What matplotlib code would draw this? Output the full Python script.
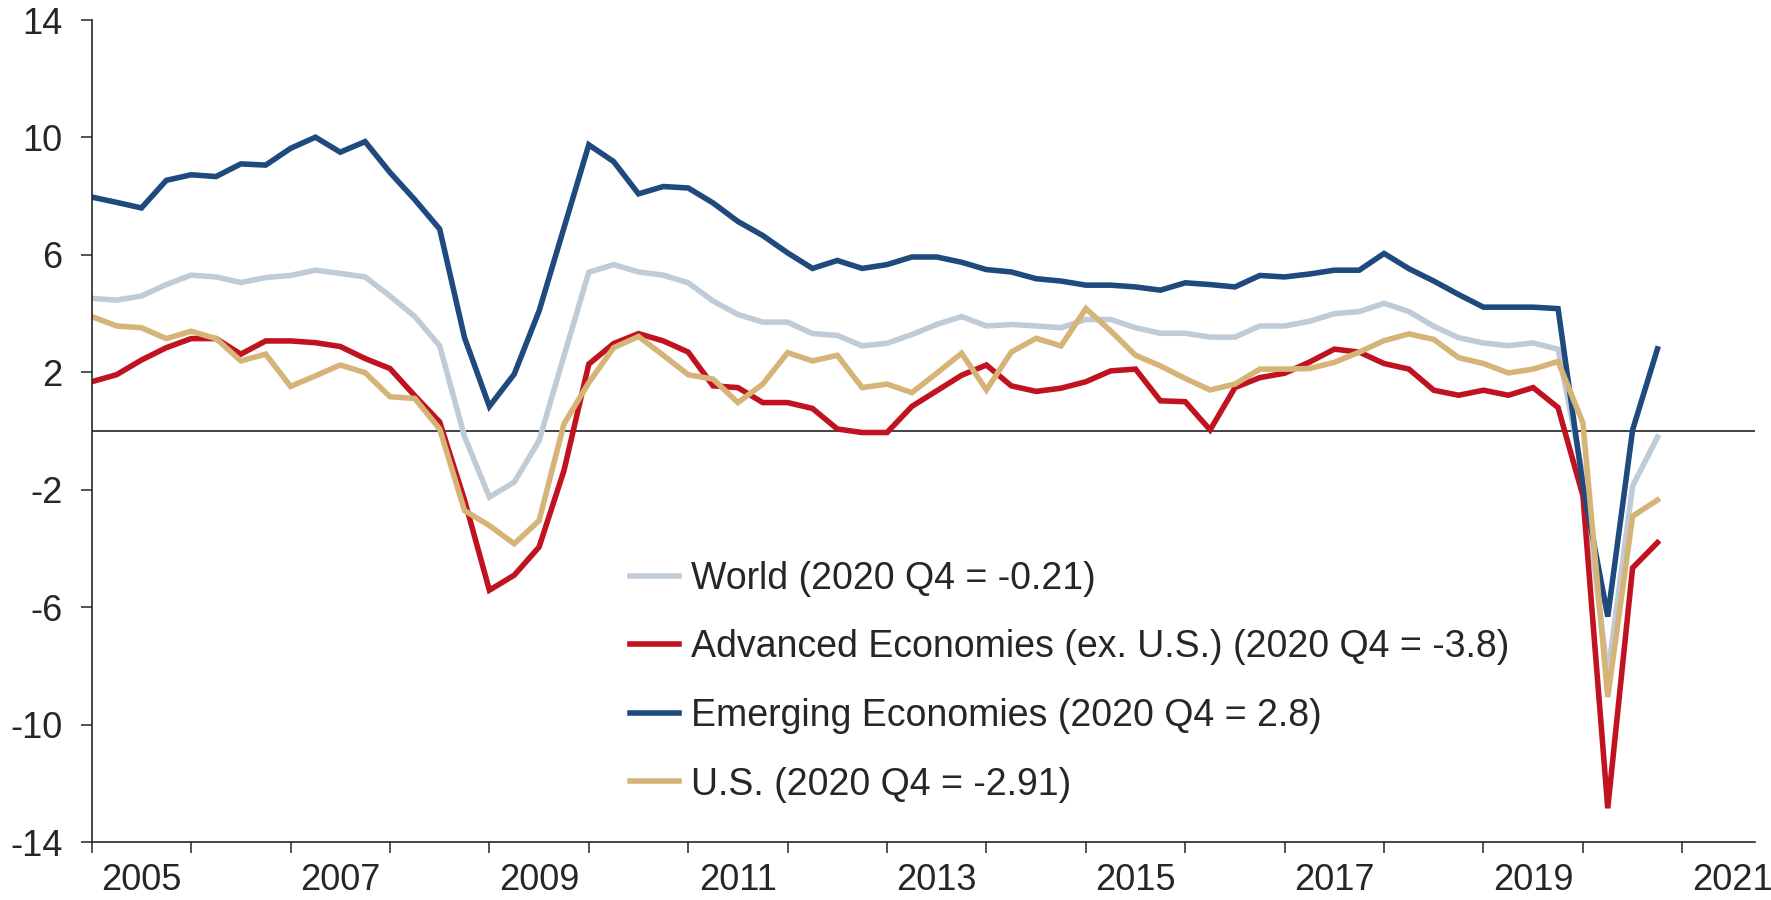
#!/usr/bin/env python3
# -*- coding: utf-8 -*-
"""
GDP growth (y/y %), quarterly 2005 Q1 - 2020 Q4:
World / Advanced Economies (ex. U.S.) / Emerging Economies / U.S.

用法：
  python plot.py
"""
from __future__ import annotations

import numpy as np
import matplotlib

matplotlib.use("Agg")
import matplotlib.pyplot as plt

# ---- data (quarterly, 2005 Q1 .. 2020 Q4) ----
START_YEAR = 2005
N_QUARTERS = 64

world = [
    4.52, 4.46, 4.60, 4.99, 5.31, 5.25, 5.06, 5.23, 5.30, 5.48, 5.37, 5.25, 4.60, 3.90, 2.90, -0.19,
    -2.25, -1.74, -0.33, 2.56, 5.41, 5.67, 5.42, 5.31, 5.05, 4.43, 3.97, 3.71, 3.71, 3.32, 3.26, 2.90,
    2.99, 3.29, 3.63, 3.90, 3.58, 3.63, 3.58, 3.52, 3.80, 3.80, 3.52, 3.33, 3.33, 3.20, 3.20, 3.58,
    3.58, 3.74, 4.00, 4.07, 4.35, 4.07, 3.57, 3.18, 3.00, 2.91, 3.00, 2.79, -1.50, -8.30, -1.87, -0.21,
]
advanced_ex_us = [
    1.68, 1.92, 2.42, 2.84, 3.15, 3.15, 2.62, 3.07, 3.07, 3.01, 2.88, 2.47, 2.13, 1.20, 0.31, -2.35,
    -5.42, -4.91, -3.95, -1.35, 2.28, 2.98, 3.32, 3.07, 2.69, 1.54, 1.48, 0.97, 0.97, 0.77, 0.07, -0.05,
    -0.05, 0.84, 1.37, 1.90, 2.25, 1.54, 1.35, 1.46, 1.68, 2.05, 2.11, 1.03, 1.00, 0.04, 1.48, 1.82,
    1.97, 2.35, 2.79, 2.69, 2.30, 2.11, 1.39, 1.22, 1.39, 1.22, 1.48, 0.80, -2.20, -12.85, -4.66, -3.80,
]
emerging = [
    7.97, 7.79, 7.60, 8.54, 8.73, 8.67, 9.10, 9.06, 9.63, 10.01, 9.50, 9.86, 8.81, 7.88, 6.88, 3.18,
    0.84, 1.94, 4.09, 6.92, 9.75, 9.18, 8.08, 8.33, 8.28, 7.77, 7.14, 6.66, 6.07, 5.54, 5.81, 5.54,
    5.67, 5.93, 5.93, 5.75, 5.50, 5.42, 5.19, 5.11, 4.97, 4.97, 4.91, 4.80, 5.05, 4.99, 4.91, 5.30,
    5.25, 5.35, 5.48, 5.48, 6.05, 5.53, 5.11, 4.65, 4.22, 4.22, 4.22, 4.17, -1.85, -6.32, 0.04, 2.80,
]
us = [
    3.90, 3.58, 3.52, 3.15, 3.40, 3.15, 2.39, 2.62, 1.52, 1.88, 2.25, 1.99, 1.17, 1.11, 0.07, -2.71,
    -3.22, -3.84, -3.05, 0.24, 1.65, 2.84, 3.22, 2.58, 1.92, 1.77, 0.97, 1.60, 2.67, 2.39, 2.58, 1.48,
    1.60, 1.31, 1.97, 2.65, 1.40, 2.69, 3.16, 2.90, 4.17, 3.41, 2.58, 2.22, 1.79, 1.40, 1.60, 2.11,
    2.11, 2.13, 2.34, 2.69, 3.08, 3.31, 3.12, 2.50, 2.30, 1.98, 2.11, 2.37, 0.28, -9.06, -2.90, -2.35,
]

series_labels = [
    "World (2020 Q4 = -0.21)",
    "Advanced Economies (ex. U.S.) (2020 Q4 = -3.8)",
    "Emerging Economies (2020 Q4 = 2.8)",
    "U.S. (2020 Q4 = -2.91)",
]
series_colors = ["#BFCBD7", "#C0121F", "#1F4A7E", "#D6B478"]

y_ticks = [14, 10, 6, 2, -2, -6, -10, -14]
x_year_labels = [2005, 2007, 2009, 2011, 2013, 2015, 2017, 2019, 2021]

TEXT_COLOR = "#262626"


def main() -> None:
    plt.rcParams["font.family"] = ["Liberation Sans", "DejaVu Sans"]

    fig = plt.figure(figsize=(17.71, 9.0), dpi=100)
    ax = fig.add_axes([0.0518, 0.0644, 0.9391, 0.9133])

    x = START_YEAR + np.arange(N_QUARTERS) / 4.0

    # 零线
    ax.axhline(0, color="#222222", linewidth=1.2, zorder=1)

    for vals, label, color in zip(
        [world, advanced_ex_us, emerging, us], series_labels, series_colors
    ):
        ax.plot(x, vals, color=color, linewidth=4.0, label=label,
                solid_joinstyle="miter", zorder=2)

    ax.set_xlim(2005, 2021.73)
    ax.set_ylim(-14, 14)

    # y 轴
    ax.set_yticks(y_ticks)
    ax.set_yticklabels([str(v) for v in y_ticks])
    ax.tick_params(axis="y", direction="out", length=8, width=1.1,
                   color=TEXT_COLOR, pad=13, labelsize=26, labelcolor=TEXT_COLOR)

    # x 轴：年份边界画刻度，标签放在年份中间
    ax.set_xticks(np.arange(2005, 2022))
    ax.set_xticklabels([])
    ax.set_xticks([y + 0.5 for y in x_year_labels], minor=True)
    ax.set_xticklabels([str(y) for y in x_year_labels], minor=True)
    ax.tick_params(axis="x", which="major", direction="out", length=8, width=1.1,
                   color=TEXT_COLOR)
    ax.tick_params(axis="x", which="minor", length=0, pad=15, labelsize=26,
                   labelcolor=TEXT_COLOR)

    for side in ("top", "right"):
        ax.spines[side].set_visible(False)
    for side in ("left", "bottom"):
        ax.spines[side].set_color(TEXT_COLOR)
        ax.spines[side].set_linewidth(1.2)

    leg = fig.legend(
        loc="upper left",
        bbox_to_anchor=(0.3557, 0.377),
        frameon=False,
        fontsize=27,
        handlelength=1.3,
        handletextpad=0.33,
        labelspacing=0.87,
        borderpad=0,
        borderaxespad=0,
    )
    for txt in leg.get_texts():
        txt.set_color(TEXT_COLOR)

    fig.savefig("out.png", dpi=100, facecolor="white")
    plt.close(fig)


if __name__ == "__main__":
    main()
